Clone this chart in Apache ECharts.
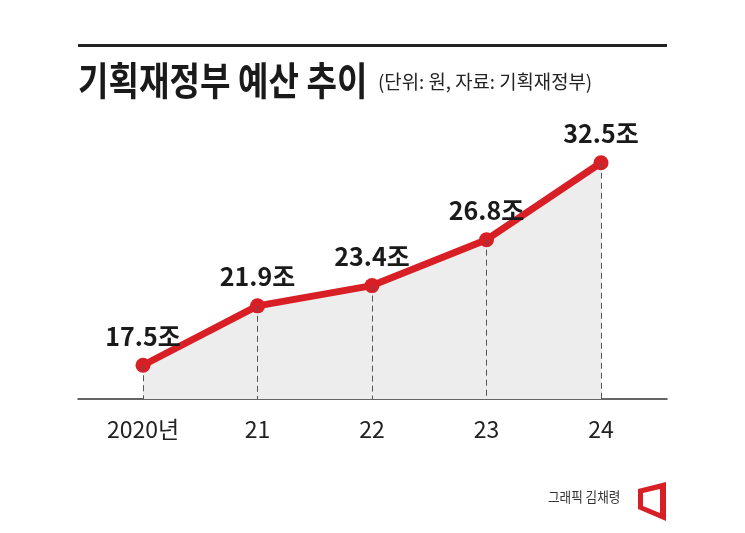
<!DOCTYPE html>
<html>
<head>
<meta charset="utf-8">
<script src="https://cdn.jsdelivr.net/npm/echarts@6/dist/echarts.min.js"></script>
<style>
  html, body { margin: 0; padding: 0; background: #fff; }
  #chart { width: 745px; height: 533px; }
</style>
</head>
<body>
<div id="chart"></div>
<script>
// 연도 / 예산(조 원)
const years = ['2020년', '21', '22', '23', '24'];
const budget = [17.5, 21.9, 23.4, 26.8, 32.5];
const yMin = 15;
const yMax = 35;

const KR = '"Noto Sans CJK KR", "Noto Sans", sans-serif';
const RED = '#d81f26';

const chart = echarts.init(document.getElementById('chart'));

const option = {
    backgroundColor: '#fff',
    animation: false,
    grid: [
        // points
        { left: 143, right: 144, top: 129, bottom: 134 },
        // wide grid only for the baseline
        { left: 78, right: 78, top: 129, bottom: 134 }
    ],
    xAxis: [
        {
            type: 'category',
            gridIndex: 0,
            data: years,
            boundaryGap: false,
            axisLine: { show: false },
            axisTick: { show: false },
            axisLabel: {
                margin: 19,
                fontSize: 23,
                color: '#222',
                fontFamily: KR
            }
        },
        {
            type: 'value',
            gridIndex: 1,
            min: 0,
            max: 1,
            axisLine: { show: true, onZero: false, lineStyle: { color: '#333', width: 1.5 } },
            axisTick: { show: false },
            axisLabel: { show: false },
            splitLine: { show: false }
        }
    ],
    yAxis: [
        {
            type: 'value',
            gridIndex: 0,
            min: yMin,
            max: yMax,
            show: false
        },
        {
            type: 'value',
            gridIndex: 1,
            min: 0,
            max: 1,
            show: false
        }
    ],
    series: [
        {
            type: 'line',
            xAxisIndex: 0,
            yAxisIndex: 0,
            data: budget,
            symbol: 'circle',
            symbolSize: 15,
            lineStyle: { color: RED, width: 7 },
            itemStyle: { color: RED },
            areaStyle: { color: '#ededed', origin: 'start', opacity: 1 },
            label: {
                show: true,
                position: 'top',
                distance: 9,
                formatter: p => p.value + '조',
                fontSize: 25,
                fontWeight: 'bold',
                color: '#1a1a1a',
                fontFamily: KR
            },
            markLine: {
                silent: true,
                symbol: ['none', 'none'],
                label: { show: false },
                lineStyle: { color: '#555', width: 1, type: [6, 4] },
                data: budget.map((v, i) => [
                    { coord: [i, v] },
                    { coord: [i, yMin] }
                ])
            },
            z: 3
        }
    ],
    graphic: [
        // top rule
        {
            type: 'rect',
            shape: { x: 78, y: 44, width: 589, height: 3 },
            style: { fill: '#222' }
        },
        {
            type: 'text',
            x: 78,
            y: 80,
            scaleX: 0.85,
            style: {
                text: '기획재정부 예산 추이',
                fontSize: 39,
                fontWeight: 'bold',
                fontFamily: KR,
                fill: '#1a1a1a',
                verticalAlign: 'middle'
            }
        },
        {
            type: 'text',
            x: 378,
            y: 82,
            scaleX: 0.99,
            style: {
                text: '(단위: 원, 자료: 기획재정부)',
                fontSize: 19,
                fontFamily: KR,
                fill: '#222',
                verticalAlign: 'middle'
            }
        },
        {
            type: 'text',
            x: 548,
            y: 497,
            scaleX: 0.9,
            style: {
                text: '그래픽 김채령',
                fontSize: 14,
                fontFamily: KR,
                fill: '#333',
                verticalAlign: 'middle'
            }
        },
        // logo
        {
            type: 'polygon',
            shape: { points: [[638, 489], [666, 482], [666, 521], [638, 509]] },
            style: { fill: RED }
        },
        {
            type: 'polygon',
            shape: { points: [[643, 493], [660, 489], [660, 513], [643, 506]] },
            style: { fill: '#fff' }
        }
    ]
};

chart.setOption(option);
</script>
</body>
</html>
